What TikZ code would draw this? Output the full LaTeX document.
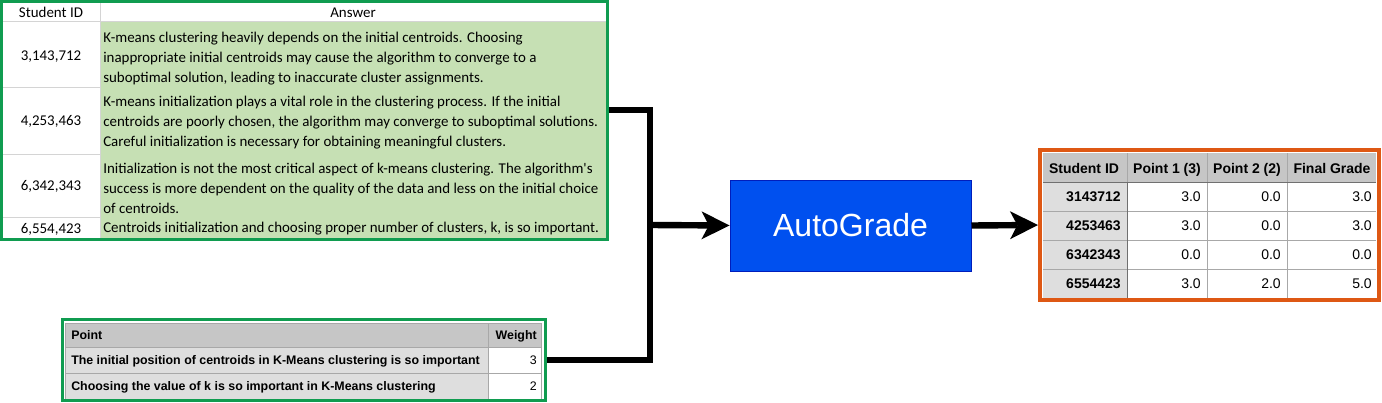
\documentclass[tikz,border=0pt]{standalone}
\usepackage{fontspec}
\setmainfont{Liberation Sans}
\newfontfamily\calib{Carlito}
\usetikzlibrary{arrows.meta,fit}
\definecolor{gborder}{RGB}{16,156,80}
\definecolor{gfill}{RGB}{198,224,180}
\definecolor{gridl}{RGB}{212,212,212}
\definecolor{orng}{RGB}{222,88,20}
\definecolor{hdr}{RGB}{198,198,198}
\definecolor{lgray}{RGB}{222,222,222}
\definecolor{tline}{RGB}{168,168,168}
\definecolor{dline}{RGB}{112,112,112}
\definecolor{agfill}{RGB}{0,80,239}
\definecolor{agdraw}{RGB}{0,29,188}
\tikzset{
  anstext/.style={font=\calib\fontsize{11.2}{15}\selectfont, anchor=west, align=left, inner sep=0},
  idtext/.style={font=\calib\fontsize{11.2}{15}\selectfont, inner sep=0, text height=7.2pt, text depth=0pt},
  rhd/.style={font=\bfseries\fontsize{10.5}{12}\selectfont, inner sep=0, text height=7.6pt, text depth=0pt},
  rid/.style={font=\bfseries\fontsize{10.5}{12}\selectfont, inner sep=0, anchor=east, text height=7.6pt, text depth=0pt},
  rval/.style={font=\fontsize{10.5}{12}\selectfont, inner sep=0, anchor=east, text height=7.6pt, text depth=0pt},
  phd/.style={font=\bfseries\fontsize{9.3}{11}\selectfont, inner sep=0, text height=6.7pt, text depth=0pt},
  pval/.style={font=\fontsize{9.3}{11}\selectfont, inner sep=0, anchor=east, text height=6.7pt, text depth=0pt},
  conn/.style={line width=4.8pt},
  tipped/.style={-{Stealth[length=21pt,width=21pt,inset=5.5pt,line width=0pt]}},
  thin/.style={line width=0.75pt},
}
\begin{document}
\begin{tikzpicture}[x=0.75pt,y=-0.75pt]
\useasboundingbox (0,0) rectangle (1382,403);
% ---------------- top table: answers ----------------
\fill[white] (3,3) rectangle (606,238);
\fill[gfill] (100,22) rectangle (606,238);
\draw[gridl,thin] (3,22) -- (606,22);
\draw[gridl,thin] (100,3) -- (100,238);
\draw[gridl,thin] (3,88) -- (100,88);
\draw[gridl,thin] (3,154) -- (100,154);
\draw[gridl,thin] (3,217) -- (100,217);
\node[idtext] (h1) at (51,13) {Student ID};
\node[idtext] (h2) at (353,13) {Answer};
\node[idtext] (i1) at (51,56) {3,143,712};
\node[idtext] (i2) at (51,121) {4,253,463};
\node[idtext] (i3) at (51,186) {6,342,343};
\node[idtext] (i4) at (51,229) {6,554,423};
\node[anstext] (a1) at (103,59) {K-means clustering heavily depends on the initial centroids. Choosing\\inappropriate initial centroids may cause the algorithm to converge to a\\suboptimal solution, leading to inaccurate cluster assignments.};
\node[anstext] (a2) at (103,123) {K-means initialization plays a vital role in the clustering process. If the initial\\centroids are poorly chosen, the algorithm may converge to suboptimal solutions.\\Careful initialization is necessary for obtaining meaningful clusters.};
\node[anstext] (a3) at (103,188) {Initialization is not the most critical aspect of k-means clustering. The algorithm's\\success is more dependent on the quality of the data and less on the initial choice\\of centroids.};
\node[anstext] (a4) at (103,229) {Centroids initialization and choosing proper number of clusters, k, is so important.};
\node[draw=gborder, line width=2.25pt, inner sep=0, fit={(1.5,1.5)(607.5,239.5)}] (ans) {};
% ---------------- bottom table: points ----------------
\fill[white] (63,320) rectangle (545,400);
\fill[hdr] (65,323) rectangle (541,347);
\fill[lgray] (65,347) rectangle (488,399);
\fill[white] (488,347) rectangle (541,399);
\draw[tline,thin] (65,323) rectangle (541,399);
\draw[tline,thin] (65,347) -- (541,347);
\draw[tline,thin] (65,373) -- (541,373);
\draw[tline,thin] (488,323) -- (488,399);
\node[phd,anchor=west] (p0) at (71,335) {Point};
\node[phd,anchor=east] (w0) at (537,335) {Weight};
\node[phd,anchor=west] (p1) at (71,360) {The initial position of centroids in K-Means clustering is so important};
\node[phd,anchor=west] (p2) at (71,386) {Choosing the value of k is so important in K-Means clustering};
\node[pval] (w1) at (537,360) {3};
\node[pval] (w2) at (537,386) {2};
\node[draw=gborder, line width=2.25pt, inner sep=0, fit={(62.5,319.5)(545.5,400.5)}] (pts) {};
% ---------------- AutoGrade ----------------
\node[fill=agfill, draw=agdraw, line width=0.75pt, minimum width=180.75pt, minimum height=68.25pt, inner sep=0, text=white, font=\fontsize{24}{28}\selectfont] (ag) at (850.5,225.5) {AutoGrade};
% ---------------- right table: results ----------------
\fill[hdr] (1043,153) rectangle (1376,182);
\fill[lgray] (1043,182) rectangle (1127,298);
\fill[white] (1127,182) rectangle (1376,298);
\foreach \yy in {211,240,269} \draw[tline,thin] (1043,\yy) -- (1376,\yy);
\draw[tline,thin] (1207,153) -- (1207,298);
\draw[tline,thin] (1287,153) -- (1287,298);
\draw[tline,thin] (1127,153) -- (1127,182);
\draw[dline,thin] (1043,182) -- (1376,182);
\draw[dline,thin] (1127,182) -- (1127,298);
\node[rhd] (r0a) at (1084,168) {Student ID};
\node[rhd] (r0b) at (1167,168) {Point 1 (3)};
\node[rhd] (r0c) at (1247,168) {Point 2 (2)};
\node[rhd] (r0d) at (1332,168) {Final Grade};
\node[rid] (r1a) at (1121,196) {3143712};
\node[rval] (r1b) at (1201,196) {3.0};
\node[rval] (r1c) at (1281,196) {0.0};
\node[rval] (r1d) at (1372,196) {3.0};
\node[rid] (r2a) at (1121,225) {4253463};
\node[rval] (r2b) at (1201,225) {3.0};
\node[rval] (r2c) at (1281,225) {0.0};
\node[rval] (r2d) at (1372,225) {3.0};
\node[rid] (r3a) at (1121,254) {6342343};
\node[rval] (r3b) at (1201,254) {0.0};
\node[rval] (r3c) at (1281,254) {0.0};
\node[rval] (r3d) at (1372,254) {0.0};
\node[rid] (r4a) at (1121,283) {6554423};
\node[rval] (r4b) at (1201,283) {3.0};
\node[rval] (r4c) at (1281,283) {2.0};
\node[rval] (r4d) at (1372,283) {5.0};
\node[draw=orng, line width=3pt, inner sep=0, fit={(1040,150)(1379,300)}] (res) {};
% ---------------- connectors ----------------
\coordinate (jt) at (650,110);
\coordinate (jm) at (650,225);
\draw[conn] (ans.east |- jt) -- (jt) |- (pts.east);
\draw[conn,tipped] (jm) -- (ag.west);
\draw[conn,tipped] (ag.east) -- (res.west);
\end{tikzpicture}
\end{document}
